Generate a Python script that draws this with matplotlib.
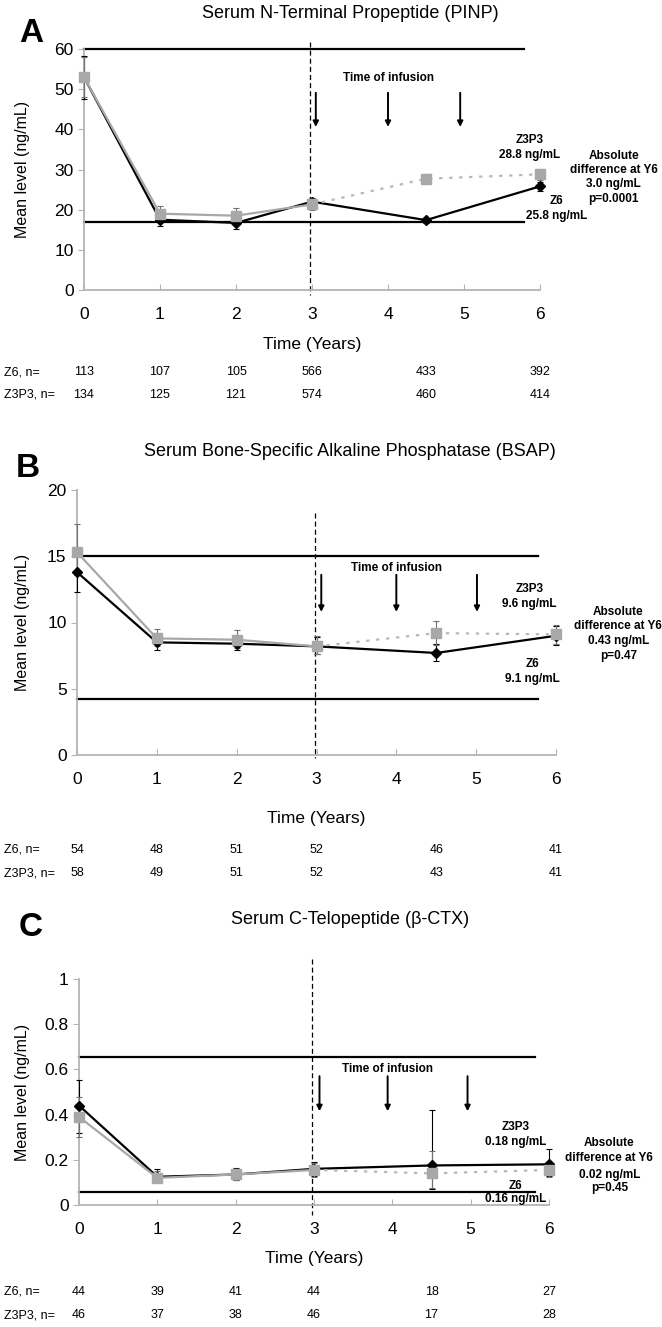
import matplotlib
matplotlib.use("Agg")
import matplotlib.pyplot as plt
from matplotlib.transforms import blended_transform_factory

plt.rcParams['font.family'] = ['Liberation Sans Narrow', 'Liberation Sans', 'DejaVu Sans']

# time points (years)
years = [0, 1, 2, 3, 4.5, 6]

# A: PINP
pinp_z6 = [53.0, 17.5, 16.7, 22.0, 17.4, 25.8]
pinp_z6_lo = [47.5, 16.0, 15.3, 21.0, 16.8, 24.6]
pinp_z6_hi = [58.3, 19.0, 18.0, 23.0, 18.0, 27.0]
pinp_z3p3 = [53.0, 19.0, 18.5, 21.3, 27.7, 28.8]
pinp_z3p3_lo = [48.0, 17.3, 16.8, 20.0, 26.5, 27.5]
pinp_z3p3_hi = [58.0, 21.0, 20.3, 22.8, 29.0, 30.1]
pinp_refs = [60.0, 17.0]
pinp_n_z6 = ['113', '107', '105', '566', '433', '392']
pinp_n_z3p3 = ['134', '125', '121', '574', '460', '414']

# B: BSAP
bsap_z6 = [13.8, 8.5, 8.4, 8.2, 7.7, 9.0]
bsap_z6_lo = [12.3, 7.9, 7.9, 7.6, 7.1, 8.3]
bsap_z6_hi = [15.3, 9.1, 8.9, 8.9, 8.4, 9.7]
bsap_z3p3 = [15.3, 8.8, 8.7, 8.2, 9.2, 9.1]
bsap_z3p3_lo = [13.6, 8.2, 8.1, 7.6, 8.3, 8.4]
bsap_z3p3_hi = [17.4, 9.5, 9.4, 9.0, 10.1, 9.8]
bsap_refs = [15.0, 4.2]
bsap_n_z6 = ['54', '48', '51', '52', '46', '41']
bsap_n_z3p3 = ['58', '49', '51', '52', '43', '41']

# C: beta-CTX
ctx_z6 = [0.44, 0.125, 0.135, 0.16, 0.175, 0.18]
ctx_z6_lo = [0.32, 0.11, 0.11, 0.13, 0.07, 0.13]
ctx_z6_hi = [0.555, 0.16, 0.165, 0.19, 0.42, 0.25]
ctx_z3p3 = [0.39, 0.12, 0.135, 0.155, 0.14, 0.155]
ctx_z3p3_lo = [0.30, 0.105, 0.11, 0.125, 0.075, 0.125]
ctx_z3p3_hi = [0.48, 0.15, 0.16, 0.185, 0.24, 0.19]
ctx_refs = [0.655, 0.058]
ctx_n_z6 = ['44', '39', '41', '44', '18', '27']
ctx_n_z3p3 = ['46', '37', '38', '46', '17', '28']

W, H = 662, 1327
fig = plt.figure(figsize=(W / 100, H / 100), dpi=100)
fig.patch.set_facecolor('white')

def fx(px):
    return px / W

def fy(py):
    return 1 - py / H

GRAY = '#a8a8a8'
AXGRAY = '#b4b4b4'

panels = [
    dict(letter='A', title='Serum N-Terminal Propeptide (PINP)',
         box=(84, 540, 49, 290), ylim=(0, 60), yticks=[0, 10, 20, 30, 40, 50, 60],
         z6=(pinp_z6, pinp_z6_lo, pinp_z6_hi), z3=(pinp_z3p3, pinp_z3p3_lo, pinp_z3p3_hi),
         refs=pinp_refs, nz6=pinp_n_z6, nz3=pinp_n_z3p3,
         title_y=14, letter_xy=(31, 33), xlab_y=345, nrow=(372, 395),
         dash=(61.8, -1.2), arrows_x=[3.05, 4.0, 4.95], arrow_y=(49.1, 40.6),
         infusion=(4.0, 52.8), ref_end=5.79,
         z3_txt=(5.86, 37.3, 33.6, 'Z3P3', '28.8 ng/mL'),
         z6_txt=(6.22, 22.2, 18.4, 'Z6', '25.8 ng/mL'),
         diff=(6.97, [33.4, 29.9, 26.4, 22.7], '3.0 ng/mL', 'p=0.0001')),
    dict(letter='B', title='Serum Bone-Specific Alkaline Phosphatase (BSAP)',
         box=(77, 556, 490, 755), ylim=(0, 20), yticks=[0, 5, 10, 15, 20],
         z6=(bsap_z6, bsap_z6_lo, bsap_z6_hi), z3=(bsap_z3p3, bsap_z3p3_lo, bsap_z3p3_hi),
         refs=bsap_refs, nz6=bsap_n_z6, nz3=bsap_n_z3p3,
         title_y=452, letter_xy=(28, 468), xlab_y=818, nrow=(850, 873),
         dash=(18.3, -0.2), arrows_x=[3.06, 4.0, 5.01], arrow_y=(13.6, 10.8),
         infusion=(4.0, 14.1), ref_end=5.78,
         z3_txt=(5.67, 12.5, 11.4, 'Z3P3', '9.6 ng/mL'),
         z6_txt=(5.70, 6.9, 5.7, 'Z6', '9.1 ng/mL'),
         diff=(6.78, [10.8, 9.7, 8.6, 7.5], '0.43 ng/mL', 'p=0.47')),
    dict(letter='C', title='Serum C-Telopeptide (\u03b2-CTX)',
         box=(79, 549, 979, 1205), ylim=(0, 1), yticks=[0, 0.2, 0.4, 0.6, 0.8, 1],
         z6=(ctx_z6, ctx_z6_lo, ctx_z6_hi), z3=(ctx_z3p3, ctx_z3p3_lo, ctx_z3p3_hi),
         refs=ctx_refs, nz6=ctx_n_z6, nz3=ctx_n_z3p3,
         title_y=920, letter_xy=(31, 928), xlab_y=1258, nrow=(1292, 1315),
         dash=(1.09, -0.045), arrows_x=[3.07, 3.94, 4.96], arrow_y=(0.57, 0.415),
         infusion=(3.94, 0.60), ref_end=5.82,
         z3_txt=(5.58, 0.345, 0.28, 'Z3P3', '0.18 ng/mL'),
         z6_txt=(5.57, 0.084, 0.027, 'Z6', '0.16 ng/mL'),
         diff=(6.77, [0.275, 0.21, 0.133, 0.075], '0.02 ng/mL', 'p=0.45')),
]

for p in panels:
    l, r, t, b = p['box']
    ax = fig.add_axes([fx(l), fy(b), fx(r) - fx(l), fy(t) - fy(b)])
    ax.set_xlim(0, 6)
    ax.set_ylim(*p['ylim'])
    ax.set_xticks(range(7))
    ax.set_yticks(p['yticks'])
    ax.set_yticklabels([('%g' % v) for v in p['yticks']])
    for s in ['top', 'right']:
        ax.spines[s].set_visible(False)
    for s in ['left', 'bottom']:
        ax.spines[s].set_color(AXGRAY)
        ax.spines[s].set_linewidth(1.3)
    ax.tick_params(axis='x', direction='in', length=4, color=AXGRAY, labelsize=12.5, pad=12)
    ax.tick_params(axis='y', direction='out', length=4, color=AXGRAY, labelsize=12.5)

    # reference range lines
    for ref in p['refs']:
        ax.plot([0, p['ref_end']], [ref, ref], color='black', lw=1.6, zorder=2,
                clip_on=False)
    # start of infusion
    ax.plot([2.98, 2.98], list(p['dash']), color='black', lw=0.9,
            ls=(0, (4, 2.5)), clip_on=False, zorder=2)

    z6, z6lo, z6hi = p['z6']
    z3, z3lo, z3hi = p['z3']
    # Z6 series
    ax.errorbar(years, z6, yerr=[[m - lo for m, lo in zip(z6, z6lo)],
                                 [hi - m for m, hi in zip(z6, z6hi)]],
                fmt='none', ecolor='black', elinewidth=0.8, capsize=2.5, capthick=0.8,
                clip_on=False, zorder=3)
    ax.plot(years, z6, color='black', lw=1.6, marker='D', ms=5.5, mfc='black',
            mec='black', clip_on=False, zorder=4)
    # Z3P3 series
    ax.errorbar(years, z3, yerr=[[m - lo for m, lo in zip(z3, z3lo)],
                                 [hi - m for m, hi in zip(z3, z3hi)]],
                fmt='none', ecolor='#707070', elinewidth=0.8, capsize=2.5, capthick=0.8,
                clip_on=False, zorder=3)
    ax.plot(years[:4], z3[:4], color=GRAY, lw=1.6, zorder=5)
    ax.plot(years[3:], z3[3:], color='#b8b8b8', lw=1.6, ls=(0, (1.5, 3)), zorder=5)
    ax.plot(years, z3, ls='none', marker='s', ms=7, mfc=GRAY, mec=GRAY,
            clip_on=False, zorder=6)

    # infusion arrows
    y0, y1 = p['arrow_y']
    for xa in p['arrows_x']:
        ax.annotate('', xy=(xa, y1), xytext=(xa, y0),
                    arrowprops=dict(arrowstyle='-|>', color='black', lw=1.4,
                                    mutation_scale=8, shrinkA=0, shrinkB=0))
    bold = dict(ha='center', va='center', fontsize=8.5, fontweight='bold', clip_on=False)
    ax.text(p['infusion'][0], p['infusion'][1], 'Time of infusion', **bold)

    x3, ya, yb, s1, s2 = p['z3_txt']
    ax.text(x3, ya, s1, **bold)
    ax.text(x3, yb, s2, **bold)
    x6, ya, yb, s1, s2 = p['z6_txt']
    ax.text(x6, ya, s1, **bold)
    ax.text(x6, yb, s2, **bold)
    xd, ys, s3, s4 = p['diff']
    for txt, yy in zip(['Absolute', 'difference at Y6', s3, s4], ys):
        ax.text(xd, yy, txt, **bold)

    # titles and labels
    fig.text(fx(350), fy(p['title_y']), p['title'], ha='center', va='center', fontsize=13)
    fig.text(fx(p['letter_xy'][0]), fy(p['letter_xy'][1]), p['letter'], ha='center',
             va='center', fontsize=24, fontweight='bold')
    fig.text(0.5 * (fx(l) + fx(r)), fy(p['xlab_y']), 'Time (Years)', ha='center',
             va='center', fontsize=12.5)
    fig.text(fx(23), 0.5 * (fy(t) + fy(b)), 'Mean level (ng/mL)', rotation=90,
             ha='center', va='center', fontsize=11.5)

    # sample sizes
    tr = blended_transform_factory(ax.transData, fig.transFigure)
    fig.text(fx(4), fy(p['nrow'][0]), 'Z6, n=', ha='left', va='center', fontsize=9)
    fig.text(fx(4), fy(p['nrow'][1]), 'Z3P3, n=', ha='left', va='center', fontsize=9)
    for xv, a, c in zip(years, p['nz6'], p['nz3']):
        ax.text(xv, fy(p['nrow'][0]), a, transform=tr, ha='center', va='center', fontsize=9)
        ax.text(xv, fy(p['nrow'][1]), c, transform=tr, ha='center', va='center', fontsize=9)

fig.savefig('out.png', dpi=100, facecolor='white')
